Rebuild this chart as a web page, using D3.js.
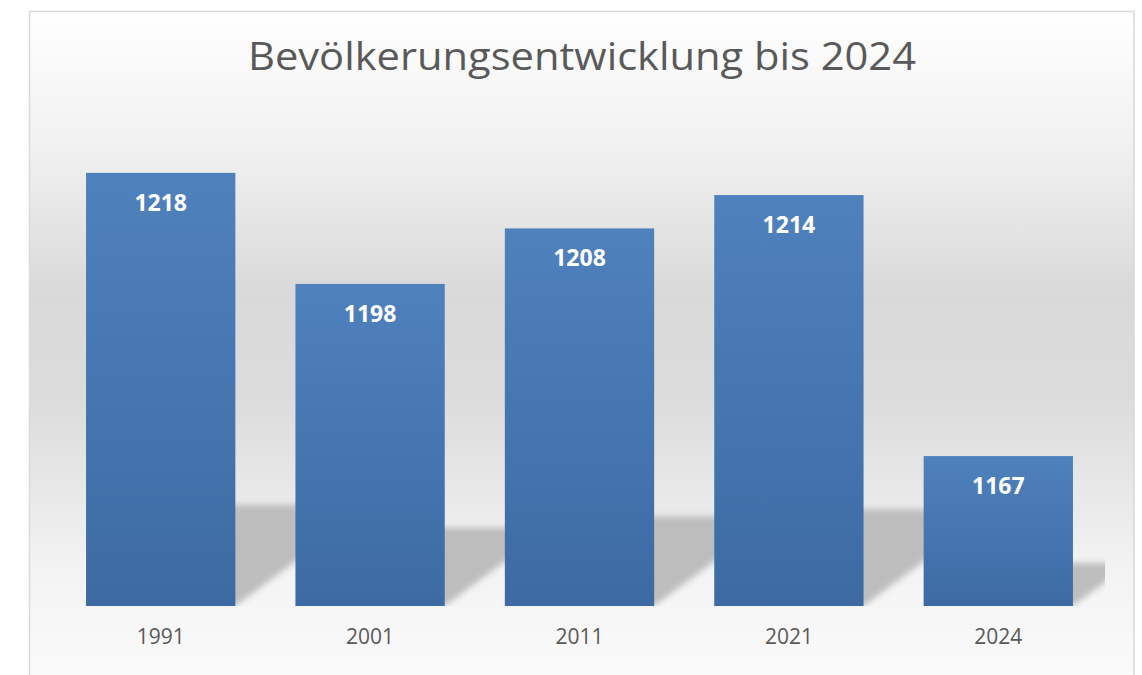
<!DOCTYPE html>
<meta charset="utf-8">
<style>
body { margin: 0; background: #fff; }
text { font-family: "Open Sans", sans-serif; }
</style>
<svg width="1142" height="675"></svg>
<script src="https://cdn.jsdelivr.net/npm/d3@7"></script>
<script>
// data
var years = ["1991", "2001", "2011", "2021", "2024"];
var population = [1218, 1198, 1208, 1214, 1167];
var chartTitle = "Bevölkerungsentwicklung bis 2024";

var svg = d3.select("svg"),
    frame = {left: 29.5, top: 11.5, right: 1134, bottom: 720},
    plot = {left: 56, right: 1103, top: 134, bottom: 606};

var defs = svg.append("defs");

// background gradient, white -> grey -> white
var bg = defs.append("linearGradient").attr("id", "bg")
    .attr("x1", 0).attr("y1", 0).attr("x2", 0).attr("y2", 1);
[[0, "#ffffff"], [0.2, "#f0f0f0"], [0.4, "#d9d9d9"], [0.55, "#dcdcdc"], [0.8, "#f4f4f4"], [1, "#fdfdfd"]]
  .forEach(function(s) { bg.append("stop").attr("offset", s[0]).attr("stop-color", s[1]); });

var barGrad = defs.append("linearGradient").attr("id", "bar")
    .attr("x1", 0).attr("y1", 0).attr("x2", 0).attr("y2", 1);
barGrad.append("stop").attr("offset", 0).attr("stop-color", "#4f81bd");
barGrad.append("stop").attr("offset", 1).attr("stop-color", "#3d6aa3");

defs.append("filter").attr("id", "blur")
    .attr("x", -0.2).attr("y", -0.2).attr("width", 1.4).attr("height", 1.4)
  .append("feGaussianBlur").attr("stdDeviation", 3);

defs.append("clipPath").attr("id", "plotClip")
  .append("rect").attr("x", plot.left).attr("y", 0)
    .attr("width", 1105 - plot.left).attr("height", plot.bottom);

svg.append("rect")
    .attr("x", frame.left).attr("y", frame.top)
    .attr("width", frame.right - frame.left).attr("height", frame.bottom - frame.top)
    .attr("fill", "url(#bg)")
    .attr("stroke", "#d9d9d9")
    .attr("stroke-width", 1.5);

svg.append("text")
    .attr("x", 582).attr("y", 70)
    .attr("text-anchor", "middle")
    .attr("fill", "#595959")
    .attr("textLength", 668)
    .attr("lengthAdjust", "spacingAndGlyphs")
    .style("font-size", "39px")
    .text(chartTitle);

var x = d3.scaleBand()
    .domain(years)
    .range([plot.left, plot.right])
    .paddingInner(0.287)
    .paddingOuter(0.1435);

var y = d3.scaleLinear()
    .domain([1140, 1225])
    .range([plot.bottom, plot.top]);

var data = years.map(function(d, i) { return {year: d, value: population[i]}; });

// perspective shadows behind the bars
svg.append("g")
    .attr("clip-path", "url(#plotClip)")
  .append("g")
    .attr("filter", "url(#blur)")
  .selectAll("path")
  .data(data)
  .join("path")
    .attr("fill", "#bdbdbd")
    .attr("d", function(d) {
      var x0 = x(d.year), x1 = x0 + x.bandwidth(),
          yb = y(1140), h = 0.206 * (yb - y(d.value)) + 12, dx = 1.35 * h;
      return "M" + x0 + "," + yb + "L" + x1 + "," + yb +
             "L" + (x1 + dx) + "," + (yb - h) + "L" + (x0 + dx) + "," + (yb - h) + "Z";
    });

svg.append("g").selectAll("rect")
  .data(data)
  .join("rect")
    .attr("x", function(d) { return x(d.year); })
    .attr("y", function(d) { return y(d.value); })
    .attr("width", x.bandwidth())
    .attr("height", function(d) { return y(1140) - y(d.value); })
    .attr("fill", "url(#bar)");

svg.append("g").selectAll("text")
  .data(data)
  .join("text")
    .attr("x", function(d) { return x(d.year) + x.bandwidth() / 2; })
    .attr("y", function(d) { return y(d.value) + 38; })
    .attr("text-anchor", "middle")
    .attr("fill", "#fff")
    .style("font-size", "23px")
    .style("font-weight", "bold")
    .text(function(d) { return d.value; });

var xAxis = svg.append("g")
    .attr("transform", "translate(0," + plot.bottom + ")")
    .call(d3.axisBottom(x).tickSize(0).tickPadding(38));
xAxis.select(".domain").remove();
xAxis.selectAll("text")
    .attr("fill", "#595959")
    .attr("dy", 0)
    .style("font-size", "21px")
    .style("font-family", "'Open Sans', sans-serif");
</script>
